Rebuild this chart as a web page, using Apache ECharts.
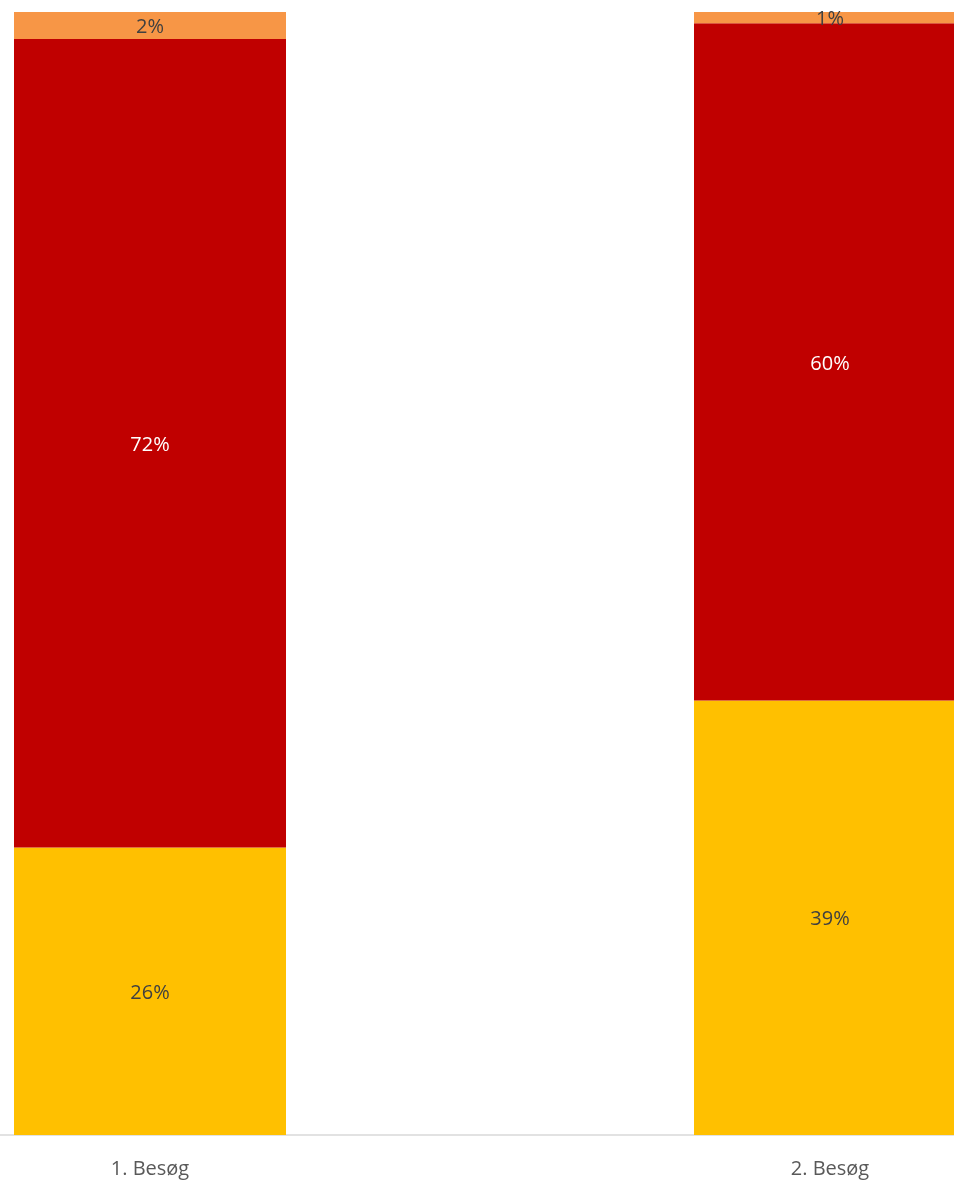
<!DOCTYPE html>
<html>
<head>
<meta charset="utf-8">
<script src="https://cdn.jsdelivr.net/npm/echarts@6/dist/echarts.min.js"></script>
<style>
  html, body { margin: 0; padding: 0; background: #fff; }
  #chart { width: 954px; height: 1180px; }
</style>
</head>
<body>
<div id="chart"></div>
<script>
  // kategorier og værdier (procent)
  const categories = ['1. Besøg', '2. Besøg'];
  const seriesNames = ['Serie 1', 'Serie 2', 'Serie 3'];
  const bottomValues = [25.6, 38.7];
  const middleValues = [72.0, 60.3];
  const topValues = [2.4, 1.0];
  const seriesColors = ['#FFC000', '#C00000', '#F79646'];
  const labelColors = ['#404040', '#ffffff', '#404040'];

  const chart = echarts.init(document.getElementById('chart'));
  const fontFamily = '"Open Sans", sans-serif';

  const seriesData = [bottomValues, middleValues, topValues];
  const series = seriesData.map((vals, i) => ({
    name: seriesNames[i],
    type: 'bar',
    stack: 'total',
    data: vals,
    barWidth: 272,
    itemStyle: { color: seriesColors[i] },
    label: {
      show: true,
      position: 'inside',
      color: labelColors[i],
      fontSize: 20,
      fontFamily: fontFamily,
      offset: [0, 2],
      formatter: (p) => Math.round(p.value) + '%',
    },
  }));

  chart.setOption({
    animation: false,
    // grafen er beskåret i venstre/højre side
    grid: { left: -190, top: 12, width: 1360, bottom: 45, outerBoundsMode: 'none' },
    xAxis: {
      type: 'category',
      data: categories,
      axisLine: { lineStyle: { color: '#d9d9d9', width: 1.5 } },
      axisTick: { show: false },
      axisLabel: {
        color: '#595959',
        fontSize: 20,
        fontFamily: fontFamily,
        margin: 24,
      },
    },
    yAxis: {
      type: 'value',
      min: 0,
      max: 100,
      show: false,
      splitLine: { show: false },
    },
    series: series,
  });
</script>
</body>
</html>
